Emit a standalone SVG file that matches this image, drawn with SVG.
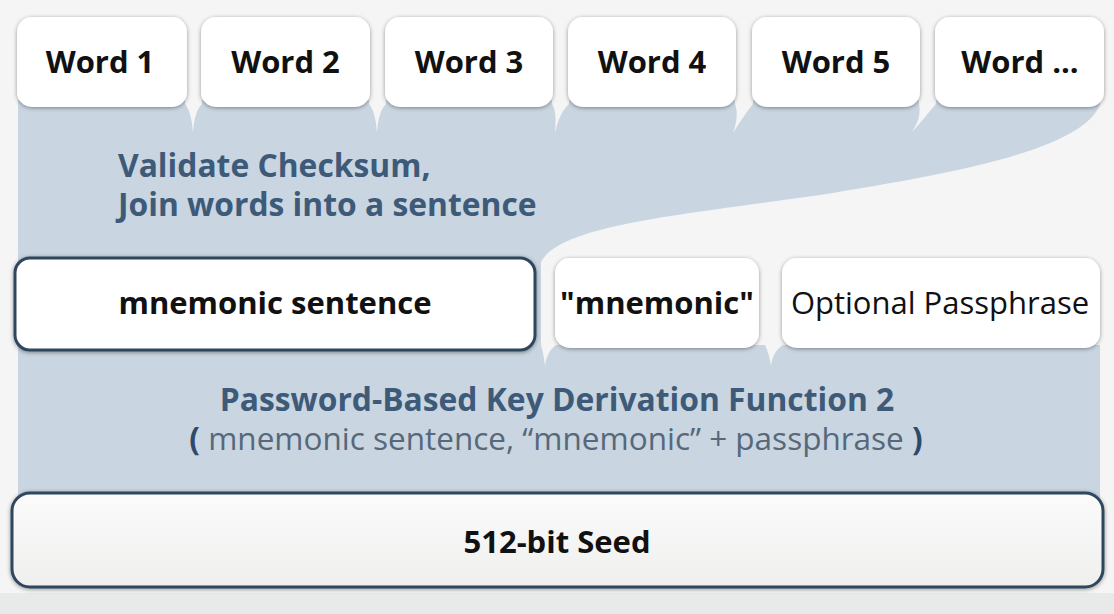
<svg xmlns="http://www.w3.org/2000/svg" width="1114" height="614" viewBox="0 0 1114 614">
<defs>
<filter id="sh" x="-10%" y="-20%" width="120%" height="150%">
<feDropShadow dx="0" dy="1" stdDeviation="2" flood-color="#000" flood-opacity="0.4"/>
</filter>
<linearGradient id="seedfill" x1="0" y1="0" x2="0" y2="1">
<stop offset="0" stop-color="#fbfbfb"/>
<stop offset="1" stop-color="#efefee"/>
</linearGradient>
<style>
.box{fill:#ffffff;filter:url(#sh)}
.dbox{fill:#ffffff;stroke:#2f475f;stroke-width:3;filter:url(#sh)}
.bg{fill:#f4f5f4}
.lbl{font-family:"Open Sans","Noto Sans","DejaVu Sans",sans-serif;font-weight:700;font-size:31px;fill:#111111;text-anchor:middle}
.reg{font-weight:400}
.blue{font-family:"Open Sans","Noto Sans","DejaVu Sans",sans-serif;font-weight:700;font-size:31.8px;fill:#3e5a79}
.sub{font-family:"Open Sans","Noto Sans","DejaVu Sans",sans-serif;font-weight:400;font-size:31.5px;fill:#56687a;text-anchor:middle}
.par{font-weight:700;fill:#2e4a6a}
</style>
</defs>
<rect x="0" y="0" width="1114" height="614" fill="#f4f5f4"/>
<rect x="0" y="593" width="1114" height="21" fill="#e8e9e9"/>

<g id="flow">
<rect x="18" y="100" width="1082" height="405" fill="#c9d5e0"/>
<path class="bg" d="M1106,95 L1100,95 L1100,105 C1080,150 960,172 820,195 C680,215 560,225 541,262 L541,345 C543,352 544,358 545,366 C546,358 549,350 556,345 L765,345 C768,352 770,358 771,366 C772,358 775,350 783,345 L1106,345 Z"/>
<path class="bg" d="M185,98 L185,104 C190,110 192,120 193,133 C194,120 196,110 202,104 L202,98 Z"/>
<path class="bg" d="M369,98 L369,104 C374,110 376,120 377,133 C378,120 380,110 386,104 L386,98 Z"/>
<path class="bg" d="M552,98 L552,104 C556,110 556,120 555,133 C558,120 562,110 569,104 L569,98 Z"/>
<path class="bg" d="M735,98 L735,104 C738,112 737,122 733,133 C740,122 745,114 753,104 L753,98 Z"/>
<path class="bg" d="M919,98 L919,104 C921,114 918,124 911,133 C920,124 927,114 936,104 L936,98 Z"/>
</g>

<g id="word1"><rect class="box" x="17" y="17" width="170" height="90" rx="15"/><text class="lbl" x="100" y="73">Word 1</text></g>
<g id="word2"><rect class="box" x="201" y="17" width="169" height="90" rx="15"/><text class="lbl" x="285.5" y="73">Word 2</text></g>
<g id="word3"><rect class="box" x="385" y="17" width="168" height="90" rx="15"/><text class="lbl" x="469" y="73">Word 3</text></g>
<g id="word4"><rect class="box" x="568" y="17" width="168" height="90" rx="15"/><text class="lbl" x="652" y="73">Word 4</text></g>
<g id="word5"><rect class="box" x="752" y="17" width="168" height="90" rx="15"/><text class="lbl" x="836" y="73">Word 5</text></g>
<g id="wordn"><rect class="box" x="935" y="17" width="169" height="90" rx="15"/><text class="lbl" x="1020" y="73">Word ...</text></g>

<g id="step1">
<text class="blue" x="118" y="177">Validate Checksum,</text>
<text class="blue" x="118" y="216">Join words into a sentence</text>
</g>

<g id="sentence"><rect class="dbox" x="15" y="258" width="520" height="92" rx="15"/><text class="lbl" x="275" y="314">mnemonic sentence</text></g>
<g id="salt"><rect class="box" x="555" y="258" width="204" height="90" rx="15"/><text class="lbl" x="657" y="314">"mnemonic"</text></g>
<g id="passphrase"><rect class="box" x="782" y="258" width="318" height="90" rx="15"/><text class="lbl reg" x="940" y="314">Optional Passphrase</text></g>

<g id="step2">
<text class="blue" x="557" y="411" text-anchor="middle">Password-Based Key Derivation Function 2</text>
<text class="sub" x="556" y="450"><tspan class="par">(</tspan> mnemonic sentence, “mnemonic” + passphrase <tspan class="par">)</tspan></text>
</g>

<g id="seed"><rect x="12" y="493" width="1091" height="94" rx="18" fill="url(#seedfill)" stroke="#2f475f" stroke-width="3" filter="url(#sh)"/><text class="lbl" x="557" y="553">512-bit Seed</text></g>
</svg>
